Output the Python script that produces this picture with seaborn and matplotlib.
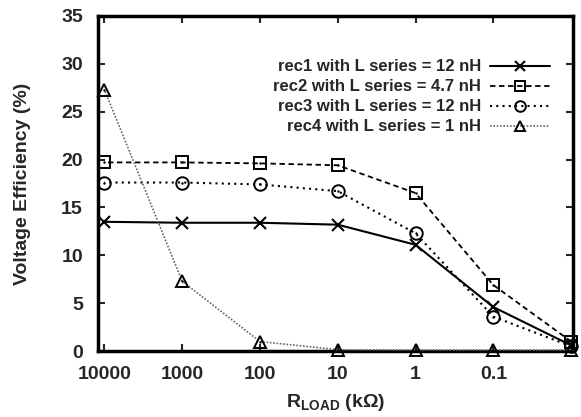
import pandas as pd
import matplotlib
matplotlib.use('Agg')
import matplotlib.pyplot as plt
import seaborn as sns

# Data
r_load = [10000, 1000, 100, 10, 1, 0.1, 0.01]
x_ticks = [10000, 1000, 100, 10, 1, 0.1]
x_tick_labels = ['10000', '1000', '100', '10', '1', '0.1']
rec1 = [13.5, 13.4, 13.4, 13.2, 11.1, 4.6, 0.6]
rec2 = [19.7, 19.7, 19.6, 19.4, 16.5, 6.9, 1.0]
rec3 = [17.6, 17.6, 17.4, 16.7, 12.3, 3.6, 0.5]
rec4 = [27.3, 7.3, 1.0, 0.15, 0.1, 0.1, 0.1]
labels = ['rec1 with L series = 12 nH', 'rec2 with L series = 4.7 nH',
          'rec3 with L series = 12 nH', 'rec4 with L series = 1 nH']

sns.set_theme(style="ticks")
plt.rcParams['font.family'] = ['Liberation Sans', 'DejaVu Sans']
plt.rcParams['font.weight'] = 'bold'
plt.rcParams['mathtext.fontset'] = 'custom'
plt.rcParams['mathtext.rm'] = 'Liberation Sans:bold'
plt.rcParams['mathtext.bf'] = 'Liberation Sans:bold'

fig = plt.figure(figsize=(5.81, 4.17), dpi=100)
ax = fig.add_axes([0.169, 0.158, 0.817, 0.804])

styles = [
    dict(color='black', linestyle='-', lw=1.5, marker='x', ms=9, mew=1.5),
    dict(color='black', linestyle=(0, (3, 2)), lw=1.3, marker='s', ms=9, mew=1.4, mfc='none'),
    dict(color='black', linestyle=(0, (1, 2)), lw=1.5, marker='o', ms=9, mew=1.4, mfc='none'),
    dict(color='#666666', linestyle=(0, (1, 1)), lw=1.2, marker='^', ms=9, mew=1.4, mfc='none'),
]

for i, (vals, lab, st) in enumerate(zip([rec1, rec2, rec3, rec4], labels, styles)):
    df = pd.DataFrame({'r': r_load, 'v': vals})
    sns.lineplot(data=df, x='r', y='v', ax=ax, label=lab, errorbar=None,
                 markeredgecolor='black', clip_on=False, zorder=3, **st)
    # gnuplot-style centre dot on the open symbols
    if i > 0:
        sns.scatterplot(data=df, x='r', y='v', ax=ax, marker='o', s=3,
                        color='black', linewidth=0, legend=False, clip_on=False, zorder=3)

ax.set_xscale('log')
ax.set_xlim(12000, 0.0095)
ax.set_ylim(0, 35)
ax.set_xticks(x_ticks)
ax.set_xticklabels(x_tick_labels)
ax.minorticks_off()
ax.set_yticks(range(0, 36, 5))

ax.tick_params(direction='in', length=5, width=1.5, top=True, right=True, labelsize=14)
ax.tick_params(axis='x', pad=11)
ax.tick_params(axis='y', pad=11)
for lbl in ax.get_xticklabels() + ax.get_yticklabels():
    lbl.set_fontweight('bold')
for sp in ax.spines.values():
    sp.set_linewidth(2.5)
    sp.set_color('black')

ax.set_xlabel(r'$\mathbf{R_{LOAD}}$ (k$\Omega$)', fontsize=14, fontweight='bold', labelpad=6)
ax.set_ylabel('Voltage Efficiency (%)', fontsize=14, fontweight='bold', labelpad=22)

ax.legend(loc='upper right', bbox_to_anchor=(0.965, 0.89), markerfirst=False, frameon=False,
          prop={'weight': 'bold', 'size': 12}, handlelength=3.6, labelspacing=0.3,
          handletextpad=0.5, borderaxespad=0, markerscale=0.85)

fig.savefig('out.png', dpi=100)
